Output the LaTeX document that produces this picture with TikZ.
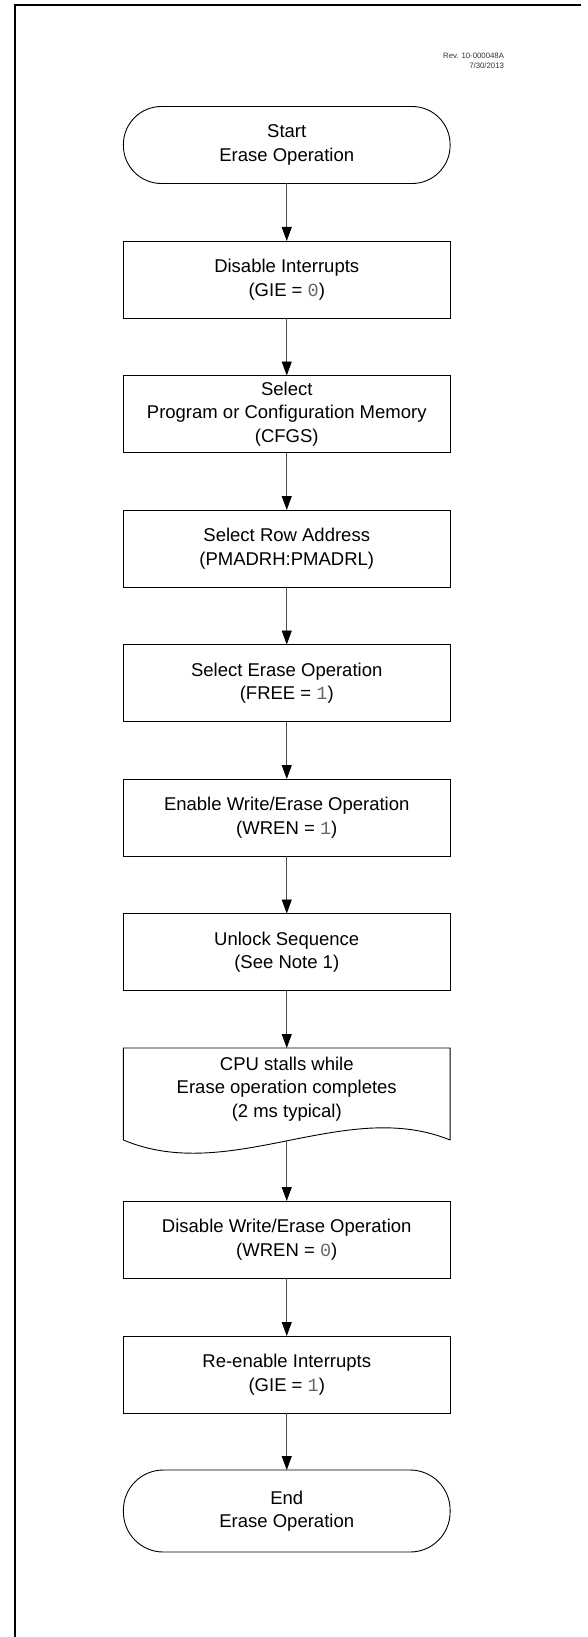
\documentclass[tikz,border=0pt]{standalone}
\usepackage{fontspec}
\setmainfont{Liberation Sans}
\newfontfamily\monof{Liberation Mono}
\usetikzlibrary{arrows.meta}
\definecolor{digit}{gray}{0.4}
\definecolor{shaft}{gray}{0.3}
\newcommand{\dg}[1]{{\monof\color{digit}#1}}
\begin{document}
\begin{tikzpicture}[x=1pt,y=-1pt,
  every node/.style={inner sep=0pt, outer sep=0pt},
  proc/.style={draw=black, line width=0.9pt, rectangle, minimum width=326.7pt, minimum height=77pt,
    align=center, font=\fontsize{18.5}{23.5}\selectfont},
  term/.style={proc, rounded corners=38pt},
  arr/.style={draw=shaft, line width=0.9pt, -{Triangle[length=14pt,width=10pt,color=black]}},
  frame/.style={line width=2pt, black}]
\useasboundingbox (0,0) rectangle (587,1637);
% partial frame
\draw[frame] (15,1637) -- (15,5) -- (581,5);
% revision note
\node[anchor=east, align=right, font=\fontsize{7.8}{10}\selectfont, text=black!80] (rev) at (504,61)
  {Rev. 10-000048A\\7/30/2013};
% flow nodes
\node[term] (start) at (286.75,145) {Start\\Erase Operation};
\node[proc] (b1) at (286.75,279.5) {Disable Interrupts\\(GIE = \dg{0})};
\node[proc] (b2) at (286.75,414) {Select\\Program or Configuration Memory\\(CFGS)};
\node[proc] (b3) at (286.75,548.5) {Select Row Address\\(PMADRH:PMADRL)};
\node[proc] (b4) at (286.75,683) {Select Erase Operation\\(FREE = \dg{1})};
\node[proc] (b5) at (286.75,817.5) {Enable Write/Erase Operation\\(WREN = \dg{1})};
\node[proc] (b6) at (286.75,952) {Unlock Sequence\\(See Note 1)};
\node[draw=none, minimum width=326.7pt, minimum height=92pt] (doc) at (286.75,1094) {};
\draw[line width=0.9pt] (doc.south east) -- (doc.north east) -- (doc.north west) -- (doc.south west)
  .. controls (230,1185) and (345,1097) .. (doc.south east);
\node[align=center, font=\fontsize{18.5}{23.5}\selectfont] (doctext) at (286.75,1089)
  {CPU stalls while\\Erase operation completes\\(2 ms typical)};
\node[proc] (b7) at (286.75,1239.5) {Disable Write/Erase Operation\\(WREN = \dg{0})};
\node[proc] (b8) at (286.75,1374.5) {Re-enable Interrupts\\(GIE = \dg{1})};
\node[term, minimum height=82pt, rounded corners=40pt] (end) at (286.75,1511) {End\\Erase Operation};
% connectors
\draw[arr] (start) -- (b1);
\draw[arr] (b1) -- (b2);
\draw[arr] (b2) -- (b3);
\draw[arr] (b3) -- (b4);
\draw[arr] (b4) -- (b5);
\draw[arr] (b5) -- (b6);
\draw[arr] (b6) -- (doc);
\draw[arr] (doc.south) -- (b7);
\draw[arr] (b7) -- (b8);
\draw[arr] (b8) -- (end);
\end{tikzpicture}
\end{document}
